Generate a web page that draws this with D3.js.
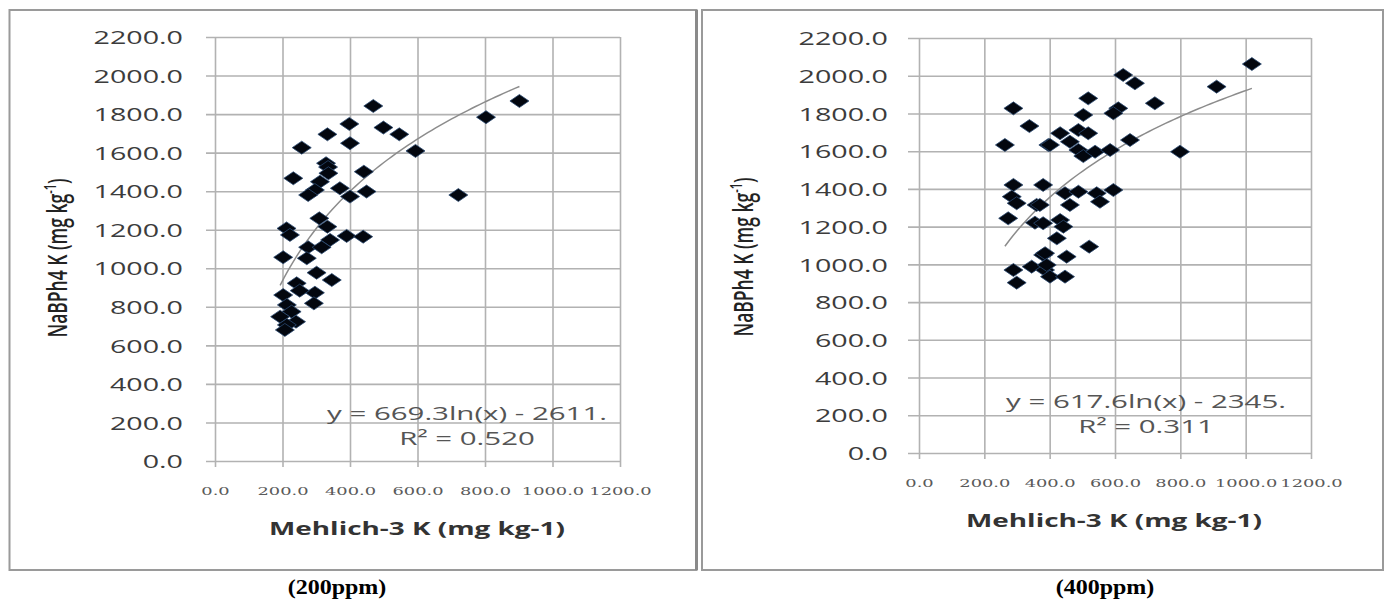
<!DOCTYPE html>
<html>
<head>
<meta charset="utf-8">
<script src="https://cdn.jsdelivr.net/npm/d3@7"></script>
<style>
  body { margin: 0; background: #fff; }
  svg { display: block; }
</style>
</head>
<body>
<svg id="chart" width="1390" height="601"></svg>
<script>
// axis ticks shared by both panels
const xTicks = [0, 200, 400, 600, 800, 1000, 1200];
const yTicks = [0, 200, 400, 600, 800, 1000, 1200, 1400, 1600, 1800, 2000, 2200];

// 200 ppm: Mehlich-3 K vs NaBPh4 K
const m3K200 = [469, 398, 333, 499, 546, 400, 257, 594, 803, 902, 329, 335, 336, 441, 232, 311, 296, 370, 276, 400,
  449, 721, 309, 333, 212, 222, 390, 439, 341, 276, 316, 202, 272, 301, 346, 242, 202, 296, 251, 293,
  213, 227, 193, 240, 213, 207];
const nabK200 = [1842, 1749, 1695, 1730, 1695, 1649, 1626, 1609, 1784, 1868, 1545, 1525, 1493, 1501, 1467, 1449, 1406, 1415, 1380, 1372,
  1398, 1380, 1259, 1216, 1207, 1173, 1168, 1164, 1147, 1109, 1109, 1057, 1052, 977, 939, 922, 861, 873, 884, 818,
  810, 775, 749, 723, 706, 680];

// 400 ppm
const m3K400 = [289, 338, 263, 396, 289, 380, 284, 299, 360, 273, 355, 289, 299, 345, 380, 386, 625, 661, 911, 1019,
  518, 503, 610, 595, 722, 432, 488, 518, 401, 462, 488, 503, 539, 585, 646, 799, 447, 488, 462, 544,
  554, 595, 370, 380, 432, 442, 422, 521, 386, 452, 391, 401, 447];
const nabK400 = [1827, 1733, 1633, 1633, 1421, 1421, 1359, 1324, 1315, 1244, 1221, 970, 903, 988, 1050, 970, 2004, 1960, 1942, 2062,
  1880, 1792, 1827, 1801, 1854, 1695, 1712, 1695, 1633, 1650, 1606, 1574, 1597, 1606, 1659, 1597, 1377, 1385, 1315, 1377,
  1332, 1394, 1315, 1218, 1235, 1200, 1138, 1094, 1059, 1041, 997, 935, 935];

// log trendlines y = a ln(x) + b
const fitSlope = [669.3, 617.6];
const fitIntercept = [-2611, -2345];
const fitText = ['y = 669.3ln(x) - 2611.', 'y = 617.6ln(x) - 2345.'];
const r2Text = ['R\u00b2 = 0.520', 'R\u00b2 = 0.311'];
const captions = ['(200ppm)', '(400ppm)'];
const xTitle = 'Mehlich-3 K (mg kg-1)';

const series = [
  { xs: m3K200, ys: nabK200 },
  { xs: m3K400, ys: nabK400 }
];

// the source picture is stretched sideways, so text and markers get the same stretch
const SX = 1.55;

const panels = [
  { box: [9.5, 10, 687, 560], x0: 215, x1: 620, y0: 461, y1: 37, gridLeft: 206, labelRight: 183,
    tickBase: 495, titleX: 417, titleY: 535, yTitleX: 67, yTitleY: 258, eqX: 467, eqY: 420, r2Y: 445, capX: 337, capY: 594 },
  { box: [702, 10, 681, 560], x0: 919, x1: 1311, y0: 453, y1: 38, gridLeft: 908, labelRight: 888,
    tickBase: 487, titleX: 1114, titleY: 527, yTitleX: 753, yTitleY: 257, eqX: 1146, eqY: 408, r2Y: 433, capX: 1105, capY: 594 }
];

const svg = d3.select('#chart');

panels.forEach(function(p, i) {
  const g = svg.append('g');

  // chart frame
  g.append('rect')
    .attr('x', p.box[0]).attr('y', p.box[1])
    .attr('width', p.box[2]).attr('height', p.box[3])
    .attr('fill', 'none')
    .attr('stroke', '#9a9a9a')
    .attr('stroke-width', 2);
  if (i === 0) {
    // heavier right edge on the first frame
    g.append('line')
      .attr('x1', p.box[0] + p.box[2]).attr('x2', p.box[0] + p.box[2])
      .attr('y1', p.box[1]).attr('y2', p.box[1] + p.box[3])
      .attr('stroke', '#8a8a8a')
      .attr('stroke-width', 3);
  }

  const x = d3.scaleLinear().domain([0, 1200]).range([p.x0, p.x1]);
  const y = d3.scaleLinear().domain([0, 2200]).range([p.y0, p.y1]);

  // y axis + horizontal gridlines
  const yAxis = d3.axisLeft(y)
    .tickValues(yTicks)
    .tickSize(-(p.x1 - p.x0))
    .tickSizeOuter(0)
    .tickFormat(d3.format('.1f'));
  const ya = g.append('g').attr('transform', 'translate(' + p.x0 + ',0)').call(yAxis);
  ya.select('.domain').remove();
  ya.selectAll('line')
    .attr('x1', -(p.x0 - p.gridLeft))
    .attr('stroke', '#b2b2b2')
    .attr('stroke-width', 1.6);
  ya.selectAll('text')
    .attr('x', 0)
    .attr('dy', '0.36em')
    .attr('transform', 'translate(' + (p.labelRight - p.x0) + ',0) scale(' + SX + ',1)')
    .attr('font-family', '"Open Sans", sans-serif')
    .attr('font-size', 18.5)
    .attr('fill', '#3c3c3c');

  // x axis + vertical gridlines
  const xAxis = d3.axisBottom(x)
    .tickValues(xTicks)
    .tickSize(-(p.y0 - p.y1))
    .tickSizeOuter(0)
    .tickFormat(d3.format('.1f'));
  const xa = g.append('g').attr('transform', 'translate(0,' + p.y0 + ')').call(xAxis);
  xa.select('.domain').remove();
  xa.selectAll('line')
    .attr('y1', 6)
    .attr('stroke', '#b2b2b2')
    .attr('stroke-width', 1.6);
  xa.selectAll('text')
    .attr('y', 0)
    .attr('dy', null)
    .attr('transform', 'translate(0,' + (p.tickBase - p.y0) + ') scale(' + SX + ',1)')
    .attr('font-family', '"DejaVu Serif", serif')
    .attr('font-size', 11.5)
    .attr('fill', '#5a5a5a');

  // trendline
  const s = series[i];
  const lo = d3.min(s.xs), hi = d3.max(s.xs);
  const fx = d3.range(0, 61).map(function(k) { return lo + (hi - lo) * k / 60; });
  const line = d3.line()
    .x(function(v) { return x(v); })
    .y(function(v) { return y(fitSlope[i] * Math.log(v) + fitIntercept[i]); });
  g.append('path')
    .datum(fx)
    .attr('d', line)
    .attr('fill', 'none')
    .attr('stroke', '#8c8c8c')
    .attr('stroke-width', 1.5);

  // diamond markers
  const hw = 9.5, hh = 6.5;
  g.selectAll('.pt')
    .data(d3.range(s.xs.length))
    .enter()
    .append('path')
    .attr('class', 'pt')
    .attr('d', 'M0,' + (-hh) + 'L' + hw + ',0L0,' + hh + 'L' + (-hw) + ',0Z')
    .attr('transform', function(k) { return 'translate(' + x(s.xs[k]) + ',' + y(s.ys[k]) + ')'; })
    .attr('fill', '#03070f')
    .attr('stroke', '#2b4a72')
    .attr('stroke-width', 0.8);

  // trendline equation
  g.append('text')
    .attr('transform', 'translate(' + p.eqX + ',' + p.eqY + ') scale(' + SX + ',1)')
    .attr('text-anchor', 'middle')
    .attr('font-family', '"Open Sans", sans-serif')
    .attr('font-size', 19)
    .attr('fill', '#555')
    .text(fitText[i]);
  g.append('text')
    .attr('transform', 'translate(' + p.eqX + ',' + p.r2Y + ') scale(' + SX + ',1)')
    .attr('text-anchor', 'middle')
    .attr('font-family', '"Open Sans", sans-serif')
    .attr('font-size', 19)
    .attr('fill', '#555')
    .text(r2Text[i]);

  // axis titles
  g.append('text')
    .attr('transform', 'translate(' + p.titleX + ',' + p.titleY + ') scale(' + SX + ',1)')
    .attr('text-anchor', 'middle')
    .attr('font-family', '"Open Sans", sans-serif')
    .attr('font-weight', 700)
    .attr('font-size', 18)
    .attr('fill', '#333')
    .text(xTitle);

  const yt = g.append('text')
    .attr('transform', 'translate(' + p.yTitleX + ',' + p.yTitleY + ') rotate(-90) scale(1,1.5)')
    .attr('text-anchor', 'middle')
    .attr('font-family', '"Open Sans", sans-serif')
    .attr('font-weight', 600)
    .attr('font-size', 17.5)
    .attr('fill', '#222');
  yt.append('tspan').text('NaBPh4 K (mg kg');
  yt.append('tspan').attr('baseline-shift', 'super').attr('font-size', 11).text('-1');
  yt.append('tspan').text(')');

  // caption under the chart
  svg.append('text')
    .attr('transform', 'translate(' + p.capX + ',' + p.capY + ') scale(1.2,1)')
    .attr('text-anchor', 'middle')
    .attr('font-family', '"Liberation Serif", "Times New Roman", serif')
    .attr('font-weight', 700)
    .attr('font-size', 20)
    .attr('fill', '#000')
    .text(captions[i]);
});
</script>
</body>
</html>
